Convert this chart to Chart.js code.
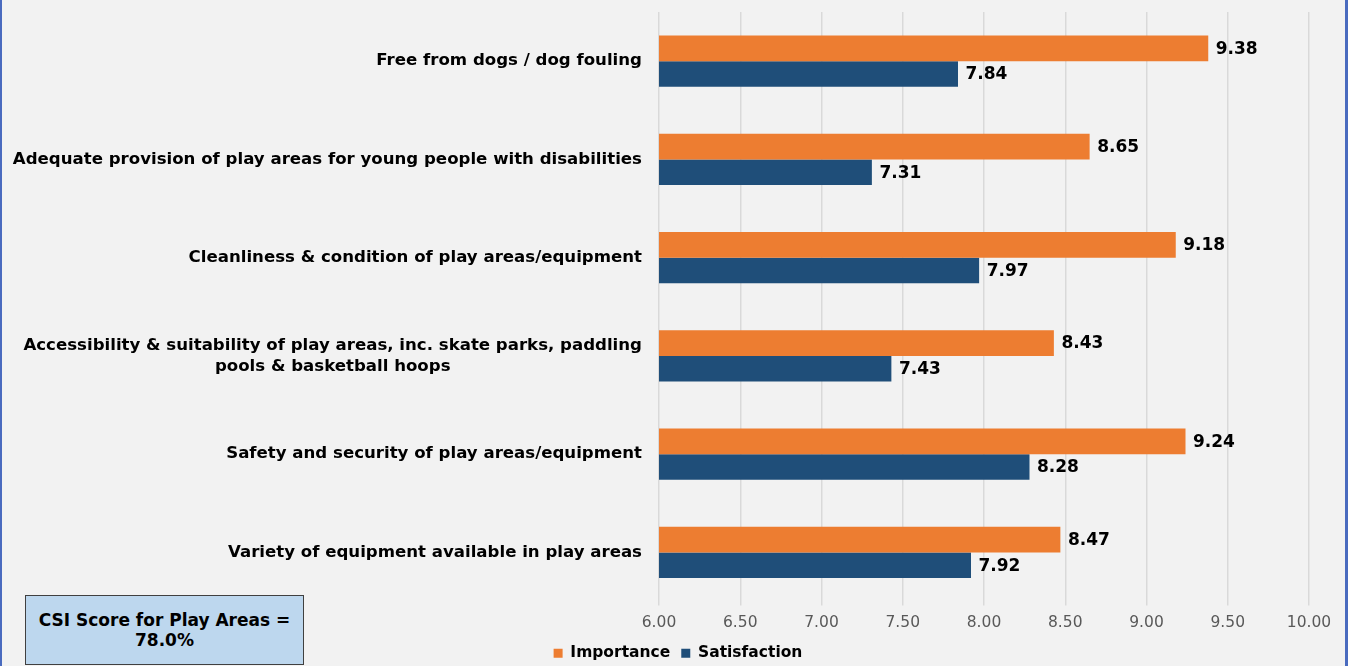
<!DOCTYPE html>
<html>
<head>
<meta charset="utf-8">
<script src="https://cdn.jsdelivr.net/npm/chart.js@4.4.0/dist/chart.umd.min.js"></script>
<style>
  html, body { margin: 0; padding: 0; background: #f2f2f2; }
  #wrap { position: relative; width: 1348px; height: 666px; background: #f2f2f2; box-sizing: border-box;
          border-left: 2px solid #4a6bbf; border-right: 3px solid #4a6bbf; overflow: hidden; }
  #chart { position: absolute; left: -2px; top: 0; }
  #csi { position: absolute; left: 23px; top: 595px; width: 279px; height: 70px; box-sizing: border-box;
         background: #bdd7ee; border: 1px solid #404040; font: bold 17px "DejaVu Sans", Verdana, sans-serif;
         color: #000; text-align: center; display: flex; align-items: center; justify-content: center; line-height: 20px; }
</style>
</head>
<body>
<div id="wrap">
  <canvas id="chart" width="1348" height="666"></canvas>
  <div id="csi">CSI Score for Play Areas =<br>78.0%</div>
</div>
<script>
// Service aspects for play areas (top to bottom)
const categories = [
  ["Free from dogs / dog fouling"],
  ["Adequate provision of play areas for young people with disabilities"],
  ["Cleanliness & condition of play areas/equipment"],
  ["Accessibility & suitability of play areas, inc. skate parks, paddling", "pools & basketball hoops"],
  ["Safety and security of play areas/equipment"],
  ["Variety of equipment available in play areas"]
];
const importance   = [9.38, 8.65, 9.18, 8.43, 9.24, 8.47];
const satisfaction = [7.84, 7.31, 7.97, 7.43, 8.28, 7.92];
const xTicks = [6.00, 6.50, 7.00, 7.50, 8.00, 8.50, 9.00, 9.50, 10.00];

const FONT = '"DejaVu Sans", Verdana, sans-serif';

// Category labels: block right-aligned at the axis, lines centred inside the block
const categoryLabels = {
  id: 'categoryLabels',
  afterDraw(chart) {
    const { ctx, chartArea, scales } = chart;
    ctx.save();
    ctx.font = 'bold 16.6px ' + FONT;
    ctx.fillStyle = '#000';
    ctx.textBaseline = 'middle';
    ctx.textAlign = 'center';
    const right = chartArea.left - 17;
    const lh = 21;
    categories.forEach((lines, i) => {
      const y = scales.y.getPixelForValue(i);
      const w = Math.max(...lines.map(l => ctx.measureText(l).width));
      const cx = right - w / 2;
      const y0 = y - (lines.length - 1) * lh / 2;
      lines.forEach((l, k) => ctx.fillText(l, cx, y0 + k * lh));
    });
    ctx.restore();
  }
};

// Value labels to the right of each bar
const valueLabels = {
  id: 'valueLabels',
  afterDatasetsDraw(chart) {
    const { ctx } = chart;
    ctx.save();
    ctx.font = 'bold 17px ' + FONT;
    ctx.fillStyle = '#000';
    ctx.textBaseline = 'middle';
    ctx.textAlign = 'left';
    chart.data.datasets.forEach((ds, di) => {
      chart.getDatasetMeta(di).data.forEach((bar, i) => {
        ctx.fillText(ds.data[i].toFixed(2), bar.x + 7.5, bar.y + 1);
      });
    });
    ctx.restore();
  }
};

new Chart(document.getElementById('chart'), {
  type: 'bar',
  data: {
    labels: categories.map(c => c.join(' ')),
    datasets: [
      { label: 'Importance', data: importance, backgroundColor: '#ed7d31' },
      { label: 'Satisfaction', data: satisfaction, backgroundColor: '#1f4e79' }
    ]
  },
  options: {
    indexAxis: 'y',
    responsive: false,
    animation: false,
    devicePixelRatio: 1,
    layout: { padding: { left: 47, right: 39, top: 12, bottom: -5 } },
    datasets: { bar: { categoryPercentage: 0.522, barPercentage: 1.0 } },
    scales: {
      x: {
        min: 6, max: 10,
        afterBuildTicks(scale) { scale.ticks = xTicks.map(v => ({ value: v })); },
        afterFit(scale) { scale.height = 33; },
        ticks: {
          color: '#595959',
          font: { family: FONT, size: 15.5 },
          padding: 8,
          maxRotation: 0,
          callback: v => Number(v).toFixed(2)
        },
        grid: { color: '#d9d9d9', lineWidth: 1.5, drawTicks: true, tickLength: 4 },
        border: { display: false }
      },
      y: {
        afterFit(scale) { scale.width = 612; },
        ticks: { display: false },
        grid: { display: false },
        border: { display: false }
      }
    },
    plugins: {
      legend: {
        position: 'bottom',
        labels: {
          color: '#000',
          font: { family: FONT, size: 15.5, weight: 'bold' },
          boxWidth: 9, boxHeight: 9, padding: 11,
          useBorderRadius: false
        }
      },
      tooltip: { enabled: false }
    }
  },
  plugins: [categoryLabels, valueLabels]
});
</script>
</body>
</html>
